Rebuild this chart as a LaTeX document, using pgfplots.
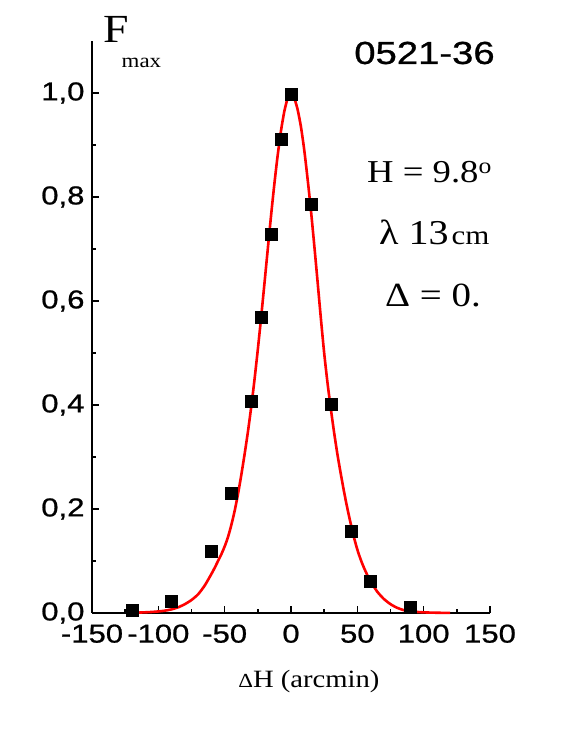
\documentclass[border=0pt]{standalone}
\usepackage{fontspec}
\setmainfont{Liberation Serif}[FakeStretch=1.15]
\newfontfamily\sansfont{Liberation Sans}[FakeStretch=1.2, FakeBold=0.8]
\usepackage{pgfplots}
\pgfplotsset{compat=1.18}

\begin{document}
\begin{tikzpicture}
\useasboundingbox (0,0) rectangle (572bp,740bp);
\begin{axis}[
  at={(92bp,127bp)}, anchor=south west,
  scale only axis, width=398bp, height=572bp,
  xmin=-150, xmax=150, ymin=0, ymax=1.1,
  clip=false,
  axis x line*=bottom, axis y line*=left,
  axis line style={line width=1.6bp, -},
  xtick={-150,-100,-50,0,50,100,150},
  minor xtick={-125,-75,-25,25,75,125},
  ytick={0,0.2,0.4,0.6,0.8,1.0},
  minor ytick={0.1,0.3,0.5,0.7,0.9},
  tick align=inside,
  major tick length=7bp, minor tick length=4bp,
  every tick/.style={black, line width=1.4bp},
  /pgf/number format/assume math mode=true,
  tick label style={font=\sansfont\fontsize{26}{28}\selectfont},
  yticklabel style={/pgf/number format/fixed, /pgf/number format/fixed zerofill,
    /pgf/number format/precision=1, /pgf/number format/use comma, xshift=-4bp},
  xticklabel style={yshift=-8bp},
  xlabel={{\fontsize{20}{22}\selectfont Δ}H (arcmin)},
  every axis x label/.style={at={(axis description cs:0.545,-0.131)}, anchor=base,
    font=\fontsize{25}{27}\selectfont},
  ylabel={{\fontsize{40}{42}\selectfont F}\kern-7bp\raisebox{-25bp}{\fontsize{20}{22}\selectfont max}},
  every axis y label/.style={at={(axis description cs:0.0276,0.9965)}, anchor=base west, inner sep=0pt},
]
\addplot[red, line width=2.6bp, smooth, tension=0.4] coordinates {
(-120,0.0005) (-115,0.0008) (-110,0.0013) (-105,0.002) (-100,0.003)
(-95,0.0045) (-90,0.007) (-85,0.011) (-80,0.017) (-75,0.025)
(-70,0.036) (-65,0.053) (-60,0.075) (-57.5,0.087) (-55,0.100)
(-52.5,0.113) (-50,0.128) (-47.5,0.146) (-45,0.169) (-42.5,0.196)
(-40,0.228) (-37.5,0.265) (-35,0.305) (-32.5,0.348) (-30,0.396)
(-27.5,0.449) (-25,0.507) (-22.5,0.569) (-20,0.634) (-17.5,0.700)
(-15,0.765) (-12.5,0.826) (-10,0.881) (-7.5,0.928) (-5,0.965)
(-2.5,0.990) (0,1.000)
(2.5,0.990) (5,0.968) (7.5,0.935) (10,0.890) (12.5,0.835)
(15,0.775) (17.5,0.708) (20,0.638) (22.5,0.567) (25,0.500)
(27.5,0.443) (30,0.393) (32.5,0.347) (35,0.305) (37.5,0.268)
(40,0.233) (42.5,0.201) (45,0.172) (47.5,0.145) (50,0.122)
(52.5,0.103) (55,0.087) (57.5,0.073) (60,0.061) (65,0.041)
(70,0.027) (75,0.017) (80,0.010) (85,0.0055) (90,0.003)
(95,0.002) (100,0.0012) (105,0.0008) (110,0.0005) (115,0.0003) (120,0.0002)
};
\addplot[only marks, mark=square*, mark size=6bp, black] coordinates {
(-120,0.005) (-90,0.023) (-60,0.118) (-45,0.231) (-30,0.408)
(-22.5,0.569) (-15,0.728) (-7.5,0.911) (0,0.998) (15,0.786)
(30,0.401) (45,0.157) (60,0.061) (90,0.011)
};
\end{axis}
\node[anchor=center, inner sep=0pt, font=\sansfont\fontsize{32}{34}\selectfont] at (424.5bp,687bp) {0521-36};
\node[anchor=base west, inner sep=0pt, font=\fontsize{32}{34}\selectfont] at (367bp,557bp) {H = 9.8\textsuperscript{o}};
\node[anchor=base west, inner sep=0pt] at (379bp,495bp) {{\fontsize{35}{37}\selectfont λ 13} {\fontsize{27}{29}\selectfont cm}};
\node[anchor=base west, inner sep=0pt, font=\fontsize{34}{36}\selectfont] at (385bp,433bp) {Δ = 0.};
\end{tikzpicture}
\end{document}
